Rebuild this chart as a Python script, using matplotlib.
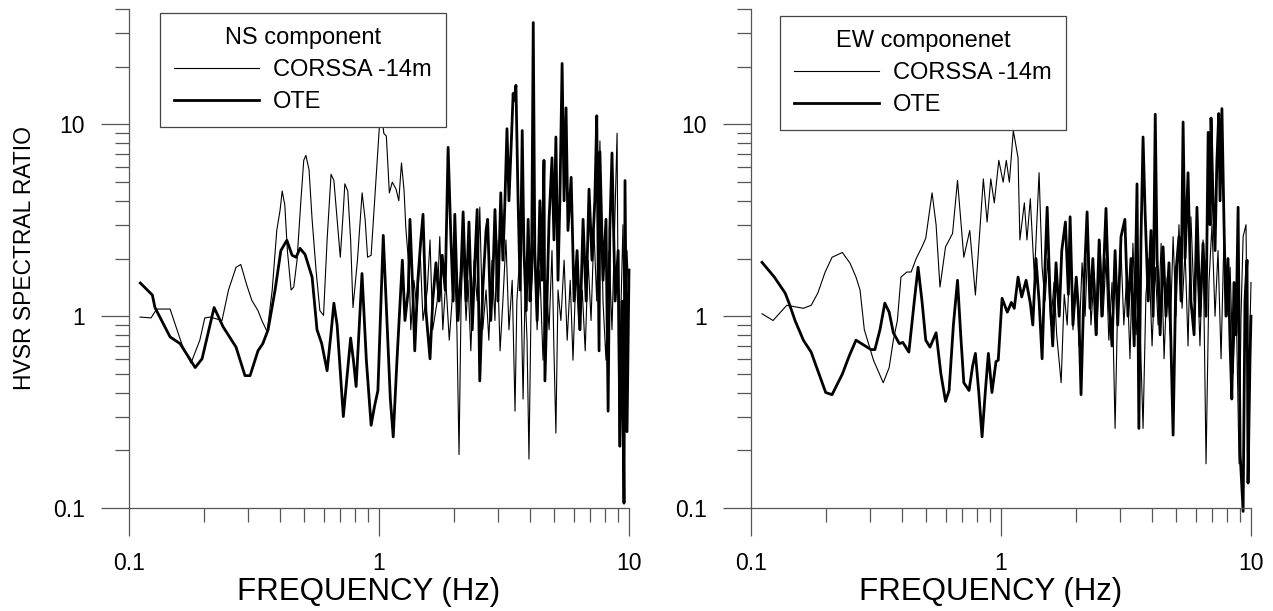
import matplotlib
matplotlib.use('Agg')
import matplotlib.pyplot as plt
from matplotlib.ticker import LogLocator, NullFormatter

plt.rcParams['font.family'] = ['Liberation Sans', 'DejaVu Sans']

# ---- NS component ----
ns_corssa_f = [0.1107, 0.1225, 0.129, 0.146, 0.163, 0.177, 0.192, 0.201, 0.211, 0.2355,
               0.25, 0.268, 0.28, 0.296, 0.31, 0.328, 0.34, 0.357, 0.374, 0.39,
               0.402, 0.41, 0.42, 0.43, 0.445, 0.456, 0.47, 0.487, 0.50, 0.51,
               0.525, 0.54, 0.56, 0.58, 0.60, 0.62, 0.643, 0.66, 0.68, 0.70,
               0.72, 0.73, 0.75, 0.77, 0.787, 0.82, 0.856, 0.88, 0.90, 0.93,
               0.955, 0.983, 1.01, 1.03, 1.045, 1.07, 1.10, 1.13, 1.17, 1.20,
               1.23, 1.26, 1.28, 1.32, 1.34, 1.38, 1.42, 1.46, 1.50, 1.56,
               1.60, 1.64, 1.71, 1.75, 1.80, 1.85, 1.91, 1.96, 2.01, 2.05,
               2.09, 2.13, 2.17, 2.23, 2.27, 2.33, 2.40, 2.47, 2.53, 2.60,
               2.68, 2.75, 2.83, 2.91, 2.96, 3.05, 3.13, 3.22, 3.31, 3.41,
               3.50, 3.56, 3.67, 3.77, 3.84, 3.91, 3.98, 4.06, 4.17, 4.29,
               4.40, 4.53, 4.66, 4.79, 4.92, 5.01, 5.10, 5.20, 5.34, 5.50,
               5.66, 5.82, 5.97, 6.14, 6.31, 6.50, 6.68, 6.86, 7.05, 7.24,
               7.43, 7.65, 7.87, 8.09, 8.32, 8.55, 8.80, 8.96, 9.12, 9.30,
               9.46, 9.64, 9.82, 10.0]
ns_corssa_v = [0.99, 0.98, 1.09, 1.09, 0.71, 0.57, 0.75, 0.98, 0.99, 0.95,
               1.37, 1.8, 1.86, 1.45, 1.21, 1.07, 0.95, 0.83, 1.37, 2.8,
               3.57, 4.5, 3.8, 2.2, 1.37, 1.42, 1.96, 4.0, 6.5, 6.9,
               5.8, 3.2, 1.74, 1.07, 1.01, 2.5, 5.5, 5.1, 3.2, 2.03,
               3.57, 4.9, 4.5, 2.5, 1.11, 1.96, 4.4, 3.2, 2.03, 2.08,
               3.57, 6.5, 11.1, 10.7, 9.0, 8.7, 4.4, 5.0, 4.6, 4.0,
               6.3, 4.5, 2.9, 1.74, 0.85, 1.54, 1.07, 2.2, 0.95, 1.37,
               2.5, 0.85, 1.2, 2.6, 0.85, 1.54, 0.75, 1.2, 1.74, 0.85,
               0.19, 1.2, 2.2, 0.95, 1.54, 0.66, 1.96, 1.2, 3.7, 0.85,
               1.37, 0.75, 1.96, 0.95, 2.5, 0.66, 1.2, 2.5, 0.85, 1.54,
               0.32, 1.2, 2.2, 0.37, 1.37, 0.75, 0.18, 1.2, 2.5, 0.85,
               1.74, 0.59, 1.54, 0.85, 2.2, 0.66, 0.246, 1.37, 0.95, 1.96,
               0.75, 1.54, 0.59, 1.74, 0.85, 1.37, 0.66, 1.96, 0.95, 2.8,
               1.2, 8.2, 1.2, 0.59, 2.2, 0.85, 3.57, 9.0, 0.21, 1.2,
               3.0, 0.46, 2.2, 1.2]

ns_ote_f = [0.111, 0.124, 0.127, 0.146, 0.160, 0.184, 0.196, 0.219, 0.238, 0.268,
            0.291, 0.305, 0.328, 0.343, 0.360, 0.384, 0.405, 0.428, 0.449, 0.466,
            0.483, 0.506, 0.540, 0.565, 0.590, 0.620, 0.643, 0.660, 0.680, 0.720,
            0.770, 0.790, 0.810, 0.855, 0.890, 0.930, 0.960, 0.990, 1.04, 1.08,
            1.11, 1.14, 1.18, 1.24, 1.27, 1.31, 1.33, 1.37, 1.39, 1.43,
            1.47, 1.50, 1.54, 1.60, 1.64, 1.69, 1.74, 1.79, 1.84, 1.89,
            1.94, 1.98, 2.01, 2.07, 2.13, 2.17, 2.23, 2.29, 2.36, 2.42,
            2.47, 2.53, 2.60, 2.68, 2.72, 2.80, 2.86, 2.91, 2.99, 3.07,
            3.13, 3.19, 3.25, 3.31, 3.38, 3.44, 3.47, 3.53, 3.60, 3.67,
            3.74, 3.80, 3.88, 3.95, 4.02, 4.08, 4.14, 4.20, 4.29, 4.40,
            4.48, 4.57, 4.61, 4.70, 4.79, 4.92, 5.01, 5.10, 5.20, 5.29,
            5.40, 5.50, 5.60, 5.70, 5.87, 6.03, 6.20, 6.37, 6.55, 6.74,
            6.92, 7.11, 7.30, 7.43, 7.59, 7.65, 7.87, 8.09, 8.25, 8.38,
            8.55, 8.80, 9.05, 9.20, 9.38, 9.55, 9.64, 9.82, 10.0]
ns_ote_v = [1.49, 1.29, 1.11, 0.78, 0.72, 0.54, 0.60, 1.11, 0.88, 0.69,
            0.49, 0.49, 0.66, 0.72, 0.85, 1.37, 2.2, 2.49, 2.08, 2.03,
            2.26, 2.10, 1.60, 0.85, 0.72, 0.52, 0.82, 1.17, 0.90, 0.30,
            0.77, 0.59, 0.43, 1.67, 0.59, 0.27, 0.34, 0.41, 2.64, 0.85,
            0.37, 0.235, 0.59, 1.96, 0.95, 1.37, 3.2, 1.2, 0.66, 1.54,
            2.5, 3.4, 1.07, 0.60, 1.2, 1.9, 1.2, 2.08, 1.37, 7.6,
            2.5, 1.2, 3.4, 0.95, 1.74, 3.5, 1.2, 3.1, 0.85, 1.96,
            3.6, 0.46, 1.37, 2.8, 3.2, 0.95, 1.74, 3.6, 1.2, 4.4,
            1.96, 4.0, 9.5, 4.0, 7.9, 14.5, 13.3, 16.0, 4.0, 1.37,
            9.3, 2.2, 1.07, 3.2, 1.2, 2.0, 34.0, 2.2, 0.95, 4.0,
            1.54, 6.5, 0.46, 1.2, 3.2, 6.7, 2.5, 8.6, 1.54, 4.0,
            20.8, 4.0, 12.2, 2.8, 5.3, 1.2, 2.2, 0.85, 3.2, 1.2,
            4.6, 1.96, 4.0, 11.1, 0.66, 7.2, 1.54, 3.2, 0.32, 2.8,
            7.1, 1.2, 2.2, 0.21, 1.2, 0.106, 5.1, 0.25, 1.74]

# ---- EW component ----
ew_corssa_f = [0.1107, 0.1225, 0.139, 0.150, 0.162, 0.174, 0.185, 0.198, 0.211, 0.232,
               0.249, 0.263, 0.273, 0.284, 0.309, 0.338, 0.357, 0.371, 0.385, 0.398,
               0.42, 0.437, 0.458, 0.483, 0.50, 0.53, 0.55, 0.57, 0.60, 0.64,
               0.67, 0.71, 0.75, 0.79, 0.85, 0.88, 0.91, 0.94, 0.98, 1.02,
               1.05, 1.08, 1.12, 1.17, 1.19, 1.24, 1.27, 1.31, 1.36, 1.42,
               1.46, 1.50, 1.54, 1.58, 1.63, 1.67, 1.74, 1.79, 1.84, 1.89,
               1.94, 2.00, 2.05, 2.11, 2.17, 2.23, 2.29, 2.36, 2.42, 2.49,
               2.56, 2.63, 2.70, 2.78, 2.86, 2.93, 3.02, 3.10, 3.19, 3.28,
               3.37, 3.47, 3.56, 3.70, 3.80, 3.91, 4.02, 4.14, 4.25, 4.37,
               4.49, 4.62, 4.75, 4.88, 5.01, 5.15, 5.30, 5.45, 5.60, 5.75,
               5.92, 6.08, 6.25, 6.43, 6.61, 6.79, 6.98, 7.18, 7.38, 7.59,
               7.80, 8.02, 8.25, 8.48, 8.71, 8.96, 9.12, 9.30, 9.55, 9.73,
               10.0]
ew_corssa_v = [1.03, 0.95, 1.14, 1.12, 1.10, 1.14, 1.32, 1.7, 2.03, 2.15,
               1.89, 1.6, 1.37, 0.85, 0.59, 0.45, 0.54, 0.75, 0.95, 1.6,
               1.7, 1.7, 2.0, 2.3, 2.55, 4.4, 3.0, 1.42, 2.3, 2.7,
               5.1, 2.03, 2.8, 1.29, 5.2, 3.1, 5.2, 3.9, 6.5, 5.0,
               6.5, 5.0, 9.3, 6.7, 2.5, 3.9, 2.5, 4.1, 1.6, 5.6,
               1.8, 1.2, 2.0, 0.9, 1.5, 0.8, 0.45, 1.3, 0.9, 2.2,
               0.85, 1.6, 0.7, 1.9, 1.0, 2.6, 0.9, 1.7, 0.8, 2.4,
               1.0, 2.0, 0.75, 1.5, 0.26, 1.2, 2.2, 0.9, 1.7, 0.6,
               2.4, 0.8, 1.4, 0.26, 1.3, 2.0, 0.7, 1.8, 0.9, 2.4,
               0.6, 1.6, 0.8, 2.6, 1.0, 3.0, 1.1, 2.2, 0.7, 3.3,
               1.2, 2.0, 0.7, 2.5, 0.17, 1.5, 3.0, 1.0, 2.2, 0.6,
               2.7, 1.0, 1.8, 0.5, 1.3, 0.17, 1.0, 2.6, 3.0, 0.3,
               1.5]

ew_ote_f = [0.1107, 0.124, 0.137, 0.142, 0.150, 0.162, 0.174, 0.185, 0.199, 0.211,
            0.232, 0.247, 0.263, 0.286, 0.302, 0.313, 0.328, 0.343, 0.357, 0.371,
            0.392, 0.405, 0.428, 0.45, 0.466, 0.483, 0.50, 0.52, 0.55, 0.575,
            0.60, 0.62, 0.645, 0.67, 0.69, 0.71, 0.745, 0.77, 0.79, 0.815,
            0.84, 0.865, 0.89, 0.92, 0.955, 0.975, 1.01, 1.06, 1.10, 1.13,
            1.17, 1.21, 1.26, 1.31, 1.34, 1.38, 1.42, 1.46, 1.50, 1.53,
            1.57, 1.61, 1.66, 1.71, 1.75, 1.81, 1.86, 1.89, 1.94, 2.00,
            2.05, 2.09, 2.15, 2.21, 2.27, 2.33, 2.40, 2.47, 2.53, 2.63,
            2.70, 2.78, 2.86, 2.93, 3.02, 3.13, 3.22, 3.31, 3.41, 3.50,
            3.56, 3.63, 3.70, 3.77, 3.88, 3.98, 4.06, 4.14, 4.21, 4.33,
            4.45, 4.57, 4.70, 4.88, 5.01, 5.15, 5.25, 5.35, 5.45, 5.60,
            5.75, 5.92, 6.08, 6.25, 6.43, 6.61, 6.74, 6.86, 6.92, 7.05,
            7.18, 7.30, 7.43, 7.52, 7.65, 7.80, 7.94, 8.09, 8.25, 8.38,
            8.55, 8.71, 8.88, 9.05, 9.30, 9.46, 9.64, 9.73, 9.91, 10.0]
ew_ote_v = [1.91, 1.6, 1.32, 1.17, 0.95, 0.75, 0.65, 0.52, 0.40, 0.39,
            0.50, 0.62, 0.75, 0.70, 0.67, 0.67, 0.85, 1.17, 1.05, 0.82,
            0.72, 0.73, 0.65, 1.2, 1.8, 1.2, 0.75, 0.69, 0.82, 0.5,
            0.36, 0.41, 0.9, 1.54, 0.8, 0.45, 0.41, 0.55, 0.64, 0.4,
            0.235, 0.4, 0.64, 0.40, 0.58, 0.59, 1.24, 1.05, 1.18, 1.1,
            1.6, 1.26, 1.54, 1.17, 0.9, 2.0, 1.2, 0.6, 1.8, 3.7,
            1.3, 0.7, 1.9, 1.0, 2.2, 3.1, 1.3, 3.3, 0.9, 1.6,
            1.0, 0.39, 1.5, 3.5, 1.1, 2.0, 0.8, 2.5, 1.0, 3.65,
            1.2, 0.7, 2.2, 0.9, 2.6, 3.2, 1.0, 2.0, 0.7, 4.9,
            0.26, 2.5, 8.6, 3.5, 1.2, 2.8, 1.0, 11.3, 2.0, 0.8,
            2.3, 1.0, 1.9, 0.24, 1.7, 2.6, 1.2, 10.3, 2.0, 5.6,
            1.2, 0.8, 3.7, 1.0, 2.4, 1.0, 9.1, 3.0, 10.8, 4.0,
            2.2, 6.3, 11.4, 4.0, 12.1, 3.0, 1.0, 2.0, 0.7, 0.37,
            1.5, 0.8, 3.7, 0.19, 0.096, 1.2, 1.96, 0.135, 0.6, 1.0]

tick_vals = [0.1, 1, 10]
tick_labels = ['0.1', '1', '10']
axis_grey = '#555555'

fig = plt.figure(figsize=(12.73, 6.11), dpi=100)
ax1 = fig.add_axes([129 / 1273, 103 / 611, 500 / 1273, 499 / 611])
ax2 = fig.add_axes([751 / 1273, 103 / 611, 500 / 1273, 499 / 611])

panels = [
    (ax1, ns_corssa_f, ns_corssa_v, ns_ote_f, ns_ote_v, 'NS component', (0.062, 0.992)),
    (ax2, ew_corssa_f, ew_corssa_v, ew_ote_f, ew_ote_v, 'EW componenet', (0.058, 0.986)),
]

for ax, cf, cv, of, ov, title, anchor in panels:
    ax.plot(cf, cv, color='black', linewidth=0.8, label='CORSSA -14m', clip_on=False)
    ax.plot(of, ov, color='black', linewidth=2.0, label='OTE', clip_on=False)

    ax.set_xscale('log')
    ax.set_yscale('log')
    ax.set_xlim(0.1, 10)
    ax.set_ylim(0.1, 40)

    for side in ['top', 'right']:
        ax.spines[side].set_visible(False)
    for side in ['left', 'bottom']:
        ax.spines[side].set_color(axis_grey)
        ax.spines[side].set_linewidth(0.9)

    ax.set_xticks(tick_vals)
    ax.set_xticklabels(tick_labels)
    ax.set_yticks(tick_vals)
    ax.set_yticklabels(tick_labels)
    ax.xaxis.set_minor_locator(LogLocator(base=10, subs=range(2, 10)))
    ax.yaxis.set_minor_locator(LogLocator(base=10, subs=range(2, 10)))
    ax.xaxis.set_minor_formatter(NullFormatter())
    ax.yaxis.set_minor_formatter(NullFormatter())
    ax.tick_params(which='major', direction='out', length=20, width=0.9,
                   color=axis_grey, labelsize=16.5, pad=12)
    ax.tick_params(which='minor', direction='out', length=10, width=0.9,
                   color=axis_grey)

    ax.set_xlabel('FREQUENCY (Hz)', fontsize=22.5)
    ax.xaxis.set_label_coords(0.479, -0.138)

    leg = ax.legend(title=title, loc='upper left', bbox_to_anchor=anchor,
                    borderaxespad=0, frameon=True, fancybox=False,
                    edgecolor='#444444', framealpha=1, fontsize=17,
                    title_fontsize=17, handlelength=3.6, handletextpad=0.6,
                    borderpad=0.6, labelspacing=0.42)
    leg.get_frame().set_linewidth(0.9)

ax1.set_ylabel('HVSR SPECTRAL RATIO', fontsize=16.5)
ax1.yaxis.set_label_coords(-0.186, 0.5)

fig.savefig('out.png', dpi=100)
